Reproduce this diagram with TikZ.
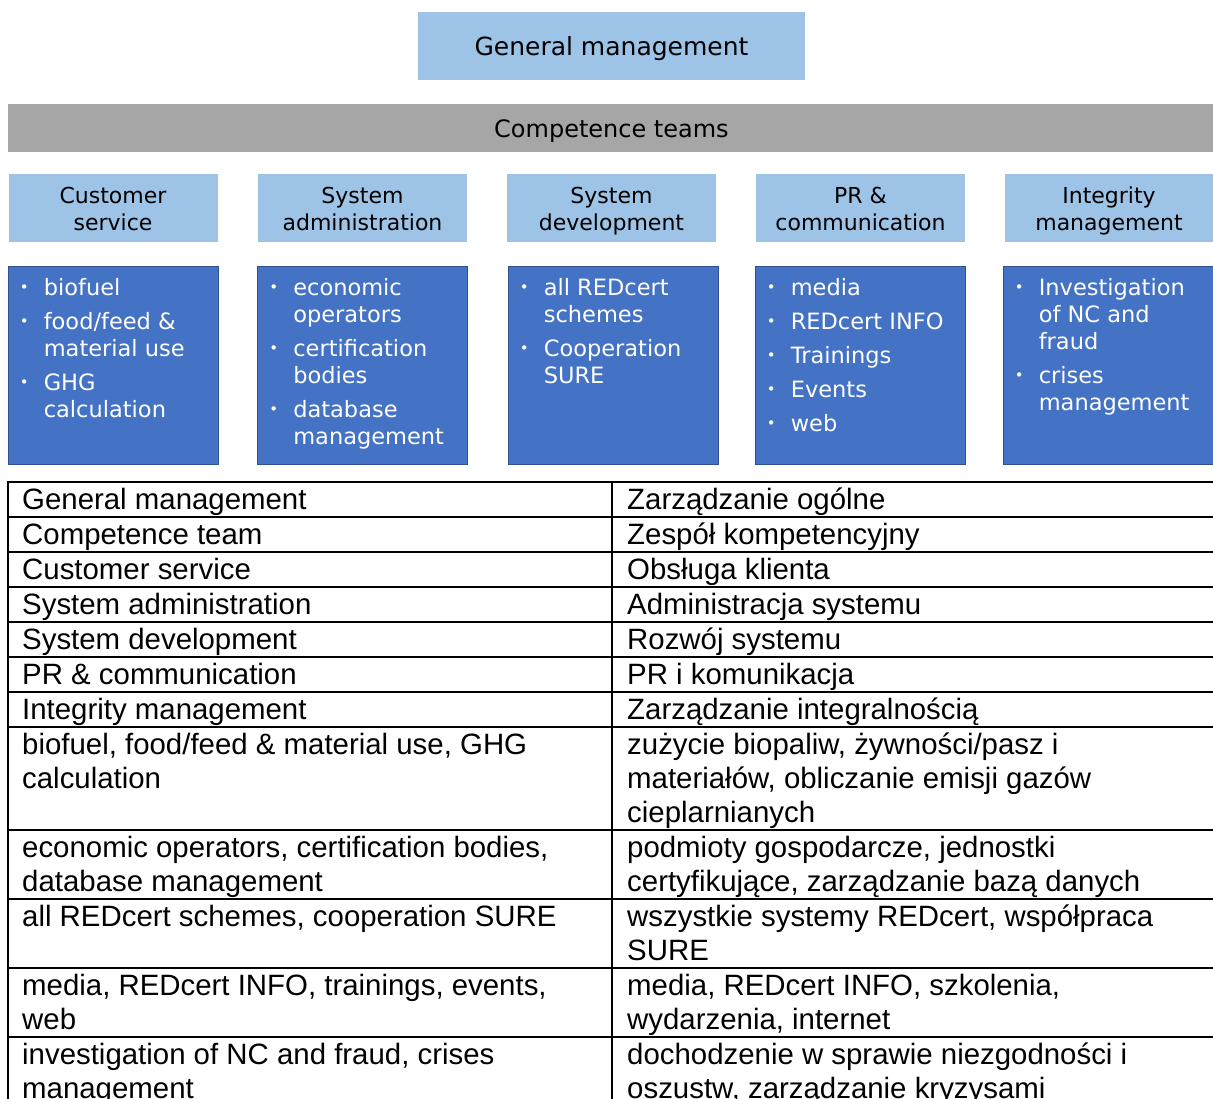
\documentclass[tikz,border=0pt]{standalone}
\usepackage{fontspec}
\setmainfont{DejaVu Sans}
\newfontfamily\tabfont{Liberation Sans}
\definecolor{lightblue}{HTML}{9DC3E6}
\definecolor{darkblue}{HTML}{4472C4}
\definecolor{darkedge}{HTML}{2F528F}
\definecolor{bargray}{HTML}{A6A6A6}
\newcommand{\bul}{\makebox[24pt][l]{\fontsize{15}{15}\selectfont\raisebox{3pt}{•}}}
\newcommand{\lines}[1]{\begin{tabular}[t]{@{}l@{}}#1\end{tabular}}
\newcommand{\twolines}[1]{\begin{tabular}{@{}c@{}}#1\end{tabular}}
\tikzset{
  headbox/.style={fill=lightblue, inner sep=0pt, text height=20pt, text depth=0pt,
    font=\fontsize{25}{30}\selectfont},
  teambox/.style={fill=lightblue, inner sep=0pt, minimum width=209pt, minimum height=68pt,
    text height=36pt, text depth=18pt, font=\fontsize{22}{27}\selectfont},
  listbox/.style={fill=darkblue, draw=darkedge, line width=0.8pt, inner sep=0pt,
    minimum width=210pt, minimum height=198pt},
  listtext/.style={anchor=base west, inner sep=0pt, text=white, font=\fontsize{22.5}{27}\selectfont},
  cell/.style={anchor=base west, inner sep=0pt, font=\tabfont\fontsize{29.4}{34}\selectfont},
}
\begin{document}
\begin{tikzpicture}[x=1pt, y=-1pt]
  \useasboundingbox (0,0) rectangle (1213,1099);
  \clip (0,0) rectangle (1213,1099);

  % organisation chart
  \node[headbox, minimum width=387pt, minimum height=68pt] (gm) at (611.5,46) {General management};
  \node[headbox, fill=bargray, minimum width=1207pt, minimum height=48pt,
    font=\fontsize{24}{29}\selectfont] (ct) at (611.5,128) {Competence teams};

  \node[teambox] (cs) at (113,208) {\twolines{Customer\\service}};
  \node[teambox] (sa) at (362.5,208) {\twolines{System\\administration}};
  \node[teambox] (sd) at (611.5,208) {\twolines{System\\development}};
  \node[teambox] (pr) at (860.5,208) {\twolines{PR \&\\communication}};
  \node[teambox] (im) at (1109,208) {\twolines{Integrity\\management}};

  \node[listbox] (csl) at (113,365) {};
  \node[listbox] (sal) at (362.5,365) {};
  \node[listbox] (sdl) at (613,365) {};
  \node[listbox] (prl) at (860,365) {};
  \node[listbox] (iml) at (1108,365) {};

  \node[listtext] (cst) at ([xshift=12pt,yshift=-30pt]csl.north west) {\begin{tabular}[t]{@{}l@{}l@{}}
    \bul & biofuel\\[7pt]
    \bul & food/feed \&\\ & material use\\[7pt]
    \bul & GHG\\ & calculation
  \end{tabular}};
  \node[listtext] (sat) at ([xshift=12pt,yshift=-30pt]sal.north west) {\begin{tabular}[t]{@{}l@{}l@{}}
    \bul & economic\\ & operators\\[7pt]
    \bul & certification\\ & bodies\\[7pt]
    \bul & database\\ & management
  \end{tabular}};
  \node[listtext] (sdt) at ([xshift=12pt,yshift=-30pt]sdl.north west) {\begin{tabular}[t]{@{}l@{}l@{}}
    \bul & all REDcert\\ & schemes\\[7pt]
    \bul & Cooperation\\ & SURE
  \end{tabular}};
  \node[listtext] (prt) at ([xshift=12pt,yshift=-30pt]prl.north west) {\begin{tabular}[t]{@{}l@{}l@{}}
    \bul & media\\[7pt]
    \bul & REDcert INFO\\[7pt]
    \bul & Trainings\\[7pt]
    \bul & Events\\[7pt]
    \bul & web
  \end{tabular}};
  \node[listtext] (imt) at ([xshift=12pt,yshift=-30pt]iml.north west) {\begin{tabular}[t]{@{}l@{}l@{}}
    \bul & Investigation\\ & of NC and\\ & fraud\\[7pt]
    \bul & crises\\ & management
  \end{tabular}};

  % translation table
  \foreach \r in {482,517,552,587,622,657,692,727,830,899,968,1037,1106}
    \draw[line width=2pt] (7,\r) -- (1220,\r);
  \draw[line width=2pt] (8,481) -- (8,1110);
  \draw[line width=2pt] (612,481) -- (612,1110);

  \node[cell] (l1) at (22,509) {General management};
  \node[cell] (r1) at (627,509) {Zarządzanie ogólne};
  \node[cell] (l2) at (22,544) {Competence team};
  \node[cell] (r2) at (627,544) {Zespół kompetencyjny};
  \node[cell] (l3) at (22,579) {Customer service};
  \node[cell] (r3) at (627,579) {Obsługa klienta};
  \node[cell] (l4) at (22,614) {System administration};
  \node[cell] (r4) at (627,614) {Administracja systemu};
  \node[cell] (l5) at (22,649) {System development};
  \node[cell] (r5) at (627,649) {Rozwój systemu};
  \node[cell] (l6) at (22,684) {PR \& communication};
  \node[cell] (r6) at (627,684) {PR i komunikacja};
  \node[cell] (l7) at (22,719) {Integrity management};
  \node[cell] (r7) at (627,719) {Zarządzanie integralnością};
  \node[cell] (l8) at (22,754) {\lines{biofuel, food/feed \& material use, GHG\\calculation}};
  \node[cell] (r8) at (627,754) {\lines{zużycie biopaliw, żywności/pasz i\\materiałów, obliczanie emisji gazów\\cieplarnianych}};
  \node[cell] (l9) at (22,857) {\lines{economic operators, certification bodies,\\database management}};
  \node[cell] (r9) at (627,857) {\lines{podmioty gospodarcze, jednostki\\certyfikujące, zarządzanie bazą danych}};
  \node[cell] (l10) at (22,926) {all REDcert schemes, cooperation SURE};
  \node[cell] (r10) at (627,926) {\lines{wszystkie systemy REDcert, współpraca\\SURE}};
  \node[cell] (l11) at (22,995) {\lines{media, REDcert INFO, trainings, events,\\web}};
  \node[cell] (r11) at (627,995) {\lines{media, REDcert INFO, szkolenia,\\wydarzenia, internet}};
  \node[cell] (l12) at (22,1064) {\lines{investigation of NC and fraud, crises\\management}};
  \node[cell] (r12) at (627,1064) {\lines{dochodzenie w sprawie niezgodności i\\oszustw, zarządzanie kryzysami}};
\end{tikzpicture}
\end{document}
